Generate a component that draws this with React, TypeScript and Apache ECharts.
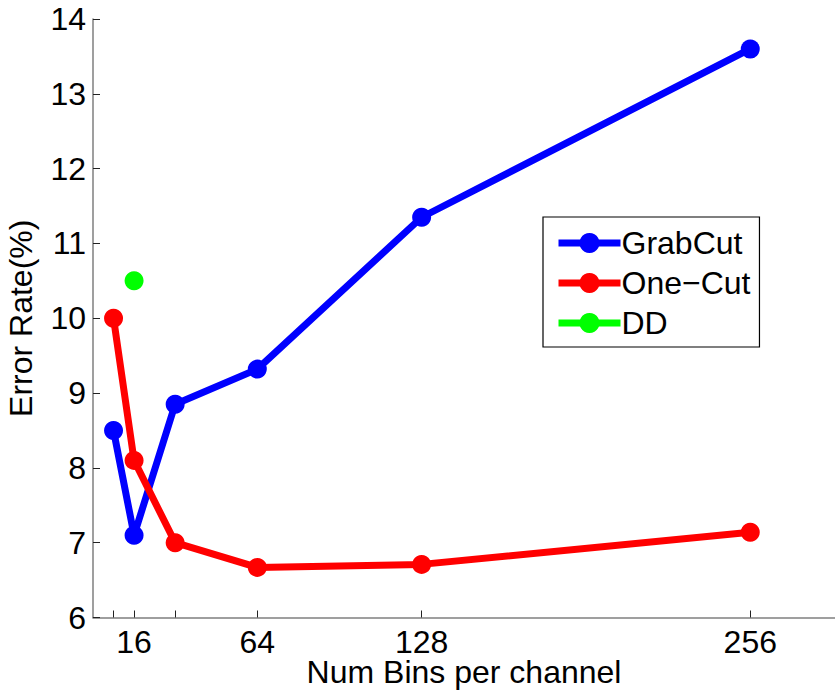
import React, { useEffect, useRef } from "react";
import * as echarts from "echarts";

const grabCut: [number, number][] = [
  [8, 8.5], [16, 7.1], [32, 8.85], [64, 9.32], [128, 11.35], [256, 13.6],
];
const oneCut: [number, number][] = [
  [8, 10.0], [16, 8.1], [32, 7.0], [64, 6.67], [128, 6.71], [256, 7.14],
];
const dd: [number, number][] = [[16, 10.5]];
const xTicks = [8, 16, 32, 64, 128, 256];
const xLabels = [16, 64, 128, 256];

const FONT = "Liberation Sans, Arial, Helvetica, sans-serif";

export default function App() {
  const ref = useRef<HTMLDivElement>(null);
  useEffect(() => {
    const chart = echarts.init(ref.current!, null, { renderer: "svg" });
    const lineSeries = (name: string, data: [number, number][], color: string) => ({
      name,
      type: "line",
      data,
      symbol: "circle",
      symbolSize: 19,
      itemStyle: { color },
      lineStyle: { color, width: 7 },
      z: 2,
    });
    chart.setOption({
      animation: false,
      backgroundColor: "#ffffff",
      grid: { left: 93, right: 0, top: 19, bottom: 73.5, containLabel: false, outerBoundsMode: "none" },
      xAxis: {
        type: "value",
        min: 0,
        max: 289,
        name: "Num Bins per channel",
        nameLocation: "middle",
        nameGap: 41,
        nameMoveOverlap: false,
        nameTextStyle: { fontFamily: FONT, fontSize: 32, lineHeight: 26, color: "#000" },
        axisLine: { lineStyle: { color: "#7f7f7f", width: 1.5 } },
        axisTick: { inside: true, length: 7, customValues: xTicks, lineStyle: { color: "#222" } },
        axisLabel: { customValues: xLabels, fontFamily: FONT, fontSize: 32, lineHeight: 26, color: "#000", margin: 11 },
        splitLine: { show: false },
      },
      yAxis: {
        type: "value",
        min: 6,
        max: 14,
        interval: 1,
        name: "Error Rate(%)",
        nameLocation: "middle",
        nameGap: 56,
        nameMoveOverlap: false,
        nameTextStyle: { fontFamily: FONT, fontSize: 32, color: "#000" },
        axisLine: { show: true, lineStyle: { color: "#7f7f7f", width: 1.5 } },
        axisTick: { show: true, inside: true, length: 7, lineStyle: { color: "#222" } },
        axisLabel: { fontFamily: FONT, fontSize: 32, color: "#000", margin: 7 },
        splitLine: { show: false },
      },
      legend: {
        left: 543,
        top: 217,
        orient: "vertical",
        backgroundColor: "#fff",
        borderColor: "#000",
        borderWidth: 1.2,
        borderRadius: 0,
        padding: [10, 9, 8, 12],
        itemWidth: 62,
        itemHeight: 25,
        itemGap: 8,
        lineStyle: { width: 7 },
        textStyle: { fontFamily: FONT, fontSize: 32, lineHeight: 32, color: "#000", padding: [0, 0, 0, -4] },
        data: ["GrabCut", "One\u2212Cut", "DD"],
      },
      series: [
        lineSeries("GrabCut", grabCut, "#0000ff"),
        lineSeries("One\u2212Cut", oneCut, "#ff0000"),
        lineSeries("DD", dd, "#00ff00"),
      ],
    });
    return () => chart.dispose();
  }, []);
  return <div ref={ref} style={{ width: 835, height: 691, position: "absolute", left: 0, top: 0 }} />;
}
